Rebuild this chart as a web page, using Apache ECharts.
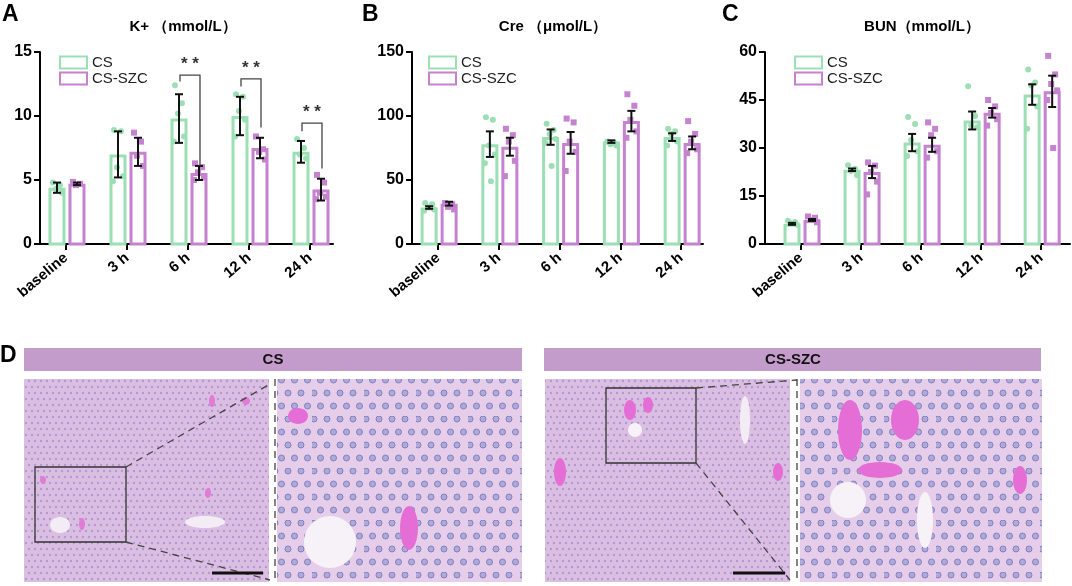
<!DOCTYPE html>
<html>
<head>
<meta charset="utf-8">
<script src="https://cdn.jsdelivr.net/npm/echarts@6/dist/echarts.min.js"></script>
<style>
  html, body { margin: 0; padding: 0; background: #fff; }
  #main { width: 1072px; height: 586px; }
</style>
</head>
<body>
<div id="main"></div>
<script>
// categories shared by all three panels
var categories = ['baseline', '3 h', '6 h', '12 h', '24 h'];
var tickValues = [0, 1, 2, 3, 4];

// K+ (mmol/L)
var kMeanCS   = [4.4, 7.0, 9.8, 10.0, 7.2];
var kErrCS    = [0.4, 1.8, 1.9, 1.5, 0.85];
var kPtsCS    = [[4.8, 4.6, 4.3, 4.0], [8.9, 8.8, 6.0, 5.3, 4.9], [12.4, 11.0, 10.2, 8.4, 8.0], [11.7, 11.5, 10.4, 9.7, 8.4], [8.2, 7.5, 7.0, 6.7]];
var kMeanSZC  = [4.7, 7.2, 5.55, 7.5, 4.25];
var kErrSZC   = [0.1, 1.1, 0.55, 0.8, 0.85];
var kPtsSZC   = [[4.85, 4.7, 4.6], [8.7, 8.0, 6.9, 6.1], [6.3, 6.0, 5.6, 5.2, 5.0], [8.4, 7.4, 7.2, 6.6], [5.4, 4.8, 4.0, 3.7, 3.5]];
// significance brackets on K+
var kSigCat   = [2, 3, 4];
var kSigTop   = [13.2, 12.9, 9.45];
var kSigLeft  = [12.7, 12.3, 8.8];
var kSigRight = [6.1, 9.1, 5.9];
var kSigText  = ['**', '**', '**'];

// Cre (umol/L)
var creMeanCS  = [28.5, 78, 83.5, 80, 83.5];
var creErrCS   = [1, 10, 6, 1, 3];
var crePtsCS   = [[32, 31, 29, 27, 26], [99, 97, 77, 70, 63, 49], [94, 89, 86, 82, 79, 61], [80, 79, 78, 77], [90, 88, 86, 80, 77]];
var creMeanSZC = [31.5, 76, 79, 96, 79];
var creErrSZC  = [1.5, 7, 8.5, 8, 5];
var crePtsSZC  = [[32, 31, 29, 27], [90, 85, 80, 65, 53], [98, 95, 80, 72, 57], [117, 108, 97, 88, 83], [96, 86, 80, 74, 71]];

// BUN (mmol/L)
var bunMeanCS  = [6.3, 23.2, 31.7, 38.6, 46.7];
var bunErrCS   = [0.3, 0.4, 2.7, 2.8, 3.2];
var bunPtsCS   = [[7.3, 6.9, 6.5, 6.0], [24.6, 23.5, 22.8, 21.5], [39.7, 37.5, 32.5, 29, 27.5], [49.3, 40, 37, 36.5], [54.5, 50.5, 49.5, 43, 36]];
var bunMeanSZC = [7.5, 22.5, 31.0, 41.0, 47.7];
var bunErrSZC  = [0.3, 1.9, 2.2, 1.5, 4.9];
var bunPtsSZC  = [[8.6, 8.2, 7.5, 6.8], [25.5, 24.5, 22.5, 19.5, 15.5], [38, 36, 34, 29, 27], [45, 43, 41, 39, 37], [58.8, 53, 50, 48, 45, 30]];

var GREEN = '#9ddfb4';
var PURPLE = '#c482cf';
var FONT = 'Liberation Sans, Arial, sans-serif';
var jitter = [-4, 3, -1, 5, -5, 1];

var myChart = echarts.init(document.getElementById('main'));

function groupSeries(panel, name, color, square, means, errs, pts, offset) {
    return {
        type: 'custom',
        name: name,
        xAxisIndex: panel,
        yAxisIndex: panel,
        itemStyle: { color: color },
        data: means.map(function (m, i) { return [i, m]; }),
        renderItem: function (params, api) {
            var i = api.value(0), m = api.value(1);
            var base = api.coord([i, 0]);
            var top = api.coord([i, m]);
            var cx = base[0] + offset;
            var kids = [];
            kids.push({
                type: 'rect',
                shape: { x: cx - 7, y: top[1] + 1.5, width: 14, height: base[1] - top[1] - 1.5 },
                style: { fill: '#fff', stroke: color, lineWidth: 3 }
            });
            pts[i].forEach(function (v, j) {
                var p = api.coord([i, v]);
                var px = cx + jitter[j % jitter.length];
                if (square) {
                    kids.push({ type: 'rect', shape: { x: px - 3, y: p[1] - 3, width: 6, height: 6 }, style: { fill: color } });
                } else {
                    kids.push({ type: 'circle', shape: { cx: px, cy: p[1], r: 3 }, style: { fill: color } });
                }
            });
            var lo = api.coord([i, m - errs[i]])[1];
            var hi = api.coord([i, m + errs[i]])[1];
            var es = { stroke: '#111', lineWidth: 2 };
            kids.push({ type: 'line', shape: { x1: cx, y1: lo, x2: cx, y2: hi }, style: es });
            kids.push({ type: 'line', shape: { x1: cx - 4, y1: lo, x2: cx + 4, y2: lo }, style: es });
            kids.push({ type: 'line', shape: { x1: cx - 4, y1: hi, x2: cx + 4, y2: hi }, style: es });
            return { type: 'group', children: kids };
        }
    };
}

function xAxisFor(panel, min, max) {
    return {
        type: 'value', gridIndex: panel, min: min, max: max,
        axisLine: { show: true, onZero: false, lineStyle: { color: '#000', width: 2 } },
        axisTick: { show: true, customValues: tickValues, length: 6, lineStyle: { color: '#000', width: 2 } },
        axisLabel: {
            customValues: tickValues, rotate: 40, margin: 12,
            formatter: function (v) { return categories[Math.round(v)]; },
            color: '#000', fontWeight: 'bold', fontSize: 15, fontFamily: FONT
        },
        splitLine: { show: false }
    };
}

function yAxisFor(panel, max, interval) {
    return {
        type: 'value', gridIndex: panel, min: 0, max: max, interval: interval,
        axisLine: { show: true, onZero: false, lineStyle: { color: '#000', width: 2 } },
        axisTick: { show: true, length: 6, lineStyle: { color: '#000', width: 2 } },
        axisLabel: { color: '#000', fontWeight: 'bold', fontSize: 16, fontFamily: FONT, margin: 8 },
        splitLine: { show: false }
    };
}

function legendFor(left) {
    return {
        left: left, top: 50, orient: 'vertical',
        itemWidth: 27, itemHeight: 12, itemGap: 1,
        textStyle: { fontSize: 15, color: '#222', fontFamily: FONT },
        data: [
            { name: 'CS', icon: 'rect', itemStyle: { color: '#fff', borderColor: GREEN, borderWidth: 2 } },
            { name: 'CS-SZC', icon: 'rect', itemStyle: { color: '#fff', borderColor: PURPLE, borderWidth: 2 } }
        ]
    };
}

var bracketSeries = {
    type: 'custom',
    xAxisIndex: 0, yAxisIndex: 0,
    data: kSigCat.map(function (c, k) { return [c, kSigTop[k], kSigLeft[k], kSigRight[k]]; }),
    renderItem: function (params, api) {
        var c = api.value(0);
        var t = api.coord([c, api.value(1)]);
        var l = api.coord([c, api.value(2)]);
        var r = api.coord([c, api.value(3)]);
        var x0 = t[0] - 8, x1 = t[0] + 12;
        return {
            type: 'group',
            children: [
                { type: 'polyline', shape: { points: [[x0, l[1]], [x0, t[1]], [x1, t[1]], [x1, r[1]]] },
                  style: { stroke: '#444', lineWidth: 1.3, fill: null } },
                { type: 'text', x: t[0] + 2, y: t[1] - 2,
                  style: { text: kSigText[params.dataIndex].split('').join(' '), fontSize: 17, fontWeight: 'bold', fill: '#333',
                           align: 'center', verticalAlign: 'bottom', fontFamily: FONT } }
            ]
        };
    }
};

// tissue-like fills for panel D photos (regular pattern, purely decorative)
function tissuePattern(big) {
    var s = big ? 52 : 24;
    var cv = document.createElement('canvas');
    cv.width = s; cv.height = s;
    var g = cv.getContext('2d');
    g.fillStyle = big ? '#e6cdea' : '#dbbfe2';
    g.fillRect(0, 0, s, s);
    var step = big ? 13 : 6;
    for (var row = 0; row * step < s; row++) {
        for (var col = 0; col * step < s; col++) {
            var x = col * step + (row % 2 ? step / 2 : 0) + 2;
            var y = row * step + 3;
            g.beginPath();
            g.arc(x % s, y % s, big ? 3 : 1.2, 0, Math.PI * 2);
            g.fillStyle = big ? '#aeaad8' : 'rgba(140,115,200,0.5)';
            g.fill();
            if (big) { g.lineWidth = 1; g.strokeStyle = '#8580c0'; g.stroke(); }
        }
    }
    return { image: cv, repeat: 'repeat' };
}
var lowFill = tissuePattern(false);
var highFill = tissuePattern(true);

function blob(cx, cy, rx, ry, color) {
    return { type: 'ellipse', shape: { cx: cx, cy: cy, rx: rx, ry: ry }, style: { fill: color } };
}

var graphics = [
    { type: 'text', left: 2, top: 3, style: { text: 'A', fontSize: 23, fontWeight: 'bold', fill: '#000', fontFamily: FONT } },
    { type: 'text', left: 362, top: 3, style: { text: 'B', fontSize: 23, fontWeight: 'bold', fill: '#000', fontFamily: FONT } },
    { type: 'text', left: 722, top: 3, style: { text: 'C', fontSize: 23, fontWeight: 'bold', fill: '#000', fontFamily: FONT } },
    { type: 'text', left: 0, top: 344, style: { text: 'D', fontSize: 23, fontWeight: 'bold', fill: '#000', fontFamily: FONT } },
    { type: 'text', x: 183, y: 27, style: { text: 'K+ （mmol/L）', fontSize: 15, fontWeight: 'bold', fill: '#000', align: 'center', verticalAlign: 'middle', fontFamily: FONT } },
    { type: 'text', x: 553, y: 27, style: { text: 'Cre （μmol/L）', fontSize: 15, fontWeight: 'bold', fill: '#000', align: 'center', verticalAlign: 'middle', fontFamily: FONT } },
    { type: 'text', x: 922, y: 27, style: { text: 'BUN（mmol/L）', fontSize: 15, fontWeight: 'bold', fill: '#000', align: 'center', verticalAlign: 'middle', fontFamily: FONT } },

    // panel D headers
    { type: 'rect', shape: { x: 24, y: 348, width: 498, height: 23 }, style: { fill: '#c49ccc' } },
    { type: 'text', x: 273, y: 360, style: { text: 'CS', fontSize: 15, fontWeight: 'bold', fill: '#111', align: 'center', verticalAlign: 'middle', fontFamily: FONT } },
    { type: 'rect', shape: { x: 544, y: 348, width: 497, height: 23 }, style: { fill: '#c49ccc' } },
    { type: 'text', x: 793, y: 360, style: { text: 'CS-SZC', fontSize: 15, fontWeight: 'bold', fill: '#111', align: 'center', verticalAlign: 'middle', fontFamily: FONT } },

    // photos
    { type: 'rect', shape: { x: 24, y: 379, width: 245, height: 203 }, style: { fill: lowFill } },
    { type: 'rect', shape: { x: 277, y: 379, width: 245, height: 203 }, style: { fill: highFill } },
    { type: 'rect', shape: { x: 545, y: 379, width: 245, height: 203 }, style: { fill: lowFill } },
    { type: 'rect', shape: { x: 800, y: 379, width: 242, height: 203 }, style: { fill: highFill } },

    blob(212, 401, 3, 6, '#e27bd6'), blob(246, 401, 4, 4, '#e27bd6'), blob(82, 524, 3, 6, '#e27bd6'),
    blob(43, 480, 3, 4, '#e27bd6'), blob(208, 493, 3, 5, '#e27bd6'), blob(60, 525, 10, 8, '#f3ecf4'),
    blob(205, 522, 20, 6, '#f3ecf4'),
    blob(298, 416, 10, 8, '#e56ed6'), blob(409, 528, 9, 22, '#e56ed6'), blob(330, 542, 26, 26, '#f7f2f7'),
    blob(560, 472, 6, 14, '#e56ed6'), blob(630, 410, 6, 10, '#e56ed6'), blob(648, 405, 5, 8, '#e56ed6'),
    blob(778, 472, 5, 9, '#e56ed6'), blob(635, 430, 7, 7, '#f7f2f7'), blob(745, 420, 5, 24, '#f3ecf4'),
    blob(850, 430, 12, 30, '#e56ed6'), blob(905, 420, 14, 20, '#e56ed6'), blob(880, 470, 22, 8, '#e56ed6'),
    blob(848, 500, 18, 18, '#f7f2f7'), blob(925, 520, 8, 28, '#f7f2f7'), blob(1020, 480, 7, 14, '#e56ed6'),

    // zoom boxes and guide lines
    { type: 'rect', shape: { x: 35, y: 467, width: 91, height: 75 }, style: { fill: null, stroke: '#333', lineWidth: 1.3 } },
    { type: 'line', shape: { x1: 126, y1: 467, x2: 270, y2: 384 }, style: { stroke: '#444', lineWidth: 1.3, lineDash: [7, 5] } },
    { type: 'line', shape: { x1: 126, y1: 542, x2: 270, y2: 580 }, style: { stroke: '#444', lineWidth: 1.3, lineDash: [7, 5] } },
    { type: 'line', shape: { x1: 275, y1: 379, x2: 275, y2: 582 }, style: { stroke: '#444', lineWidth: 1.3, lineDash: [7, 5] } },
    { type: 'rect', shape: { x: 606, y: 388, width: 90, height: 75 }, style: { fill: null, stroke: '#333', lineWidth: 1.3 } },
    { type: 'line', shape: { x1: 696, y1: 388, x2: 797, y2: 380 }, style: { stroke: '#444', lineWidth: 1.3, lineDash: [7, 5] } },
    { type: 'line', shape: { x1: 696, y1: 463, x2: 790, y2: 580 }, style: { stroke: '#444', lineWidth: 1.3, lineDash: [7, 5] } },
    { type: 'line', shape: { x1: 797, y1: 379, x2: 797, y2: 582 }, style: { stroke: '#444', lineWidth: 1.3, lineDash: [7, 5] } },

    // scale bars
    { type: 'line', shape: { x1: 212, y1: 573, x2: 263, y2: 573 }, style: { stroke: '#111', lineWidth: 3 } },
    { type: 'line', shape: { x1: 733, y1: 573, x2: 785, y2: 573 }, style: { stroke: '#111', lineWidth: 3 } }
];

var option = {
    animation: false,
    textStyle: { fontFamily: FONT },
    grid: [
        { left: 40, top: 52, width: 293, height: 192 },
        { left: 412, top: 52, width: 291, height: 192 },
        { left: 765, top: 52, width: 305, height: 192 }
    ],
    xAxis: [
        xAxisFor(0, -0.426, 4.377),
        xAxisFor(1, -0.43, 4.36),
        xAxisFor(2, -0.6, 4.48)
    ],
    yAxis: [
        yAxisFor(0, 15, 5),
        yAxisFor(1, 150, 50),
        yAxisFor(2, 60, 15)
    ],
    legend: [legendFor(54), legendFor(423), legendFor(789)],
    graphic: graphics,
    series: [
        groupSeries(0, 'CS', GREEN, false, kMeanCS, kErrCS, kPtsCS, -9),
        groupSeries(0, 'CS-SZC', PURPLE, true, kMeanSZC, kErrSZC, kPtsSZC, 11),
        bracketSeries,
        groupSeries(1, 'CS', GREEN, false, creMeanCS, creErrCS, crePtsCS, -9),
        groupSeries(1, 'CS-SZC', PURPLE, true, creMeanSZC, creErrSZC, crePtsSZC, 11),
        groupSeries(2, 'CS', GREEN, false, bunMeanCS, bunErrCS, bunPtsCS, -9),
        groupSeries(2, 'CS-SZC', PURPLE, true, bunMeanSZC, bunErrSZC, bunPtsSZC, 11)
    ]
};

myChart.setOption(option);
</script>
</body>
</html>
